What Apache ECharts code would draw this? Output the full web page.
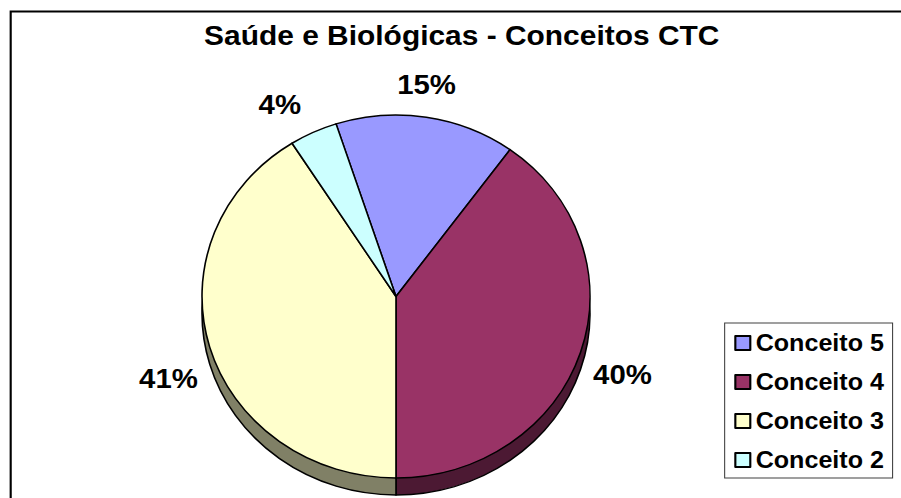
<!DOCTYPE html>
<html>
<head>
<meta charset="utf-8">
<script src="https://cdn.jsdelivr.net/npm/echarts@6/dist/echarts.min.js"></script>
<style>
  html, body { margin: 0; padding: 0; background: #ffffff; overflow: hidden; }
  /* the drawing is laid out in a narrower frame and widened to fill the window */
  #frame { width: 901px; height: 498px; overflow: hidden; position: relative; }
  #chart { width: 843px; height: 498px; transform: scaleX(1.0688); transform-origin: 0 0; }
</style>
</head>
<body>
<div id="frame"><div id="chart"></div></div>
<script>
// Data
const chartTitle = 'Saúde e Biológicas - Conceitos CTC';
const categories = ['Conceito 5', 'Conceito 4', 'Conceito 3', 'Conceito 2'];
const values = [15, 40, 41, 4];
const faceColors = ['#9999FF', '#993366', '#FFFFCC', '#CCFFFF'];
const sideColors = ['#4C4C80', '#4C1933', '#808066', '#668080'];

// Layout
const CX = 370.5, CY = 296.5, R = 181.5, DEPTH = 17;
const START = 108;          // degrees, counter-clockwise from 3 o'clock
const LABEL_GAP = 15;
// small per-label adjustments for the tilted (3-D) look
const labelNudge = [[-5, 0], [-4, 8], [5, 19], [-16, 5]];

const total = values.reduce((a, b) => a + b, 0);

function placeLabel(params) {
  if (params.seriesIndex !== 0) return {};
  const i = params.dataIndex;
  let before = 0;
  for (let k = 0; k < i; k++) before += values[k];
  const theta = (START - (before + values[i] / 2) / total * 360) * Math.PI / 180;
  const ux = Math.cos(theta), uy = -Math.sin(theta);
  const w = params.labelRect.width, h = params.labelRect.height;
  const d = R + LABEL_GAP + w / 2 * Math.abs(ux) + h / 2 * Math.abs(uy);
  return {
    x: CX + d * ux + labelNudge[i][0],
    y: CY + d * uy + labelNudge[i][1],
    align: 'center',
    verticalAlign: 'middle'
  };
}

const chart = echarts.init(document.getElementById('chart'), null, { renderer: 'svg' });

chart.setOption({
  backgroundColor: '#ffffff',
  animation: false,
  title: {
    text: chartTitle,
    left: 427,
    top: 16,
    textAlign: 'center',
    textStyle: { fontFamily: 'Liberation Sans, Arial, sans-serif', fontSize: 28, fontWeight: 'bold', color: '#000' }
  },
  legend: {
    orient: 'vertical',
    left: 678,
    top: 323,
    data: categories,
    icon: 'rect',
    itemWidth: 14,
    itemHeight: 14,
    itemGap: 15,
    padding: [8, 8, 6, 9],
    borderColor: '#404040',
    borderWidth: 1,
    backgroundColor: '#ffffff',
    selectedMode: false,
    itemStyle: { borderColor: '#000', borderWidth: 2 },
    textStyle: { fontFamily: 'Liberation Sans, Arial, sans-serif', fontSize: 23.5, fontWeight: 'bold', color: '#000' }
  },
  graphic: [{
    type: 'rect',
    left: 7.5, top: 9,
    shape: { width: 1000, height: 1000 },
    style: { fill: 'none', stroke: '#000', lineWidth: 2 },
    z: 100
  }],
  series: [
    {
      name: 'face',
      type: 'pie',
      center: [CX, CY],
      radius: R,
      startAngle: START,
      clockwise: true,
      avoidLabelOverlap: false,
      z: 3,
      emphasis: { disabled: true },
      itemStyle: { borderColor: '#000', borderWidth: 1.5 },
      label: {
        show: true,
        position: 'outside',
        formatter: p => Math.round(p.percent) + '%',
        fontFamily: 'Liberation Sans, Arial, sans-serif',
        fontSize: 27.5,
        fontWeight: 'bold',
        color: '#000'
      },
      labelLine: { show: false },
      labelLayout: placeLabel,
      data: categories.map((c, i) => ({ name: c, value: values[i], itemStyle: { color: faceColors[i] } }))
    },
    {
      name: 'side',
      type: 'pie',
      center: [CX, CY + DEPTH],
      radius: R,
      startAngle: START,
      clockwise: true,
      silent: true,
      z: 2,
      emphasis: { disabled: true },
      itemStyle: { borderColor: '#000', borderWidth: 1.5 },
      label: { show: false },
      labelLine: { show: false },
      data: categories.map((c, i) => ({ name: c, value: values[i], itemStyle: { color: sideColors[i] } }))
    }
  ]
});
</script>
</body>
</html>
